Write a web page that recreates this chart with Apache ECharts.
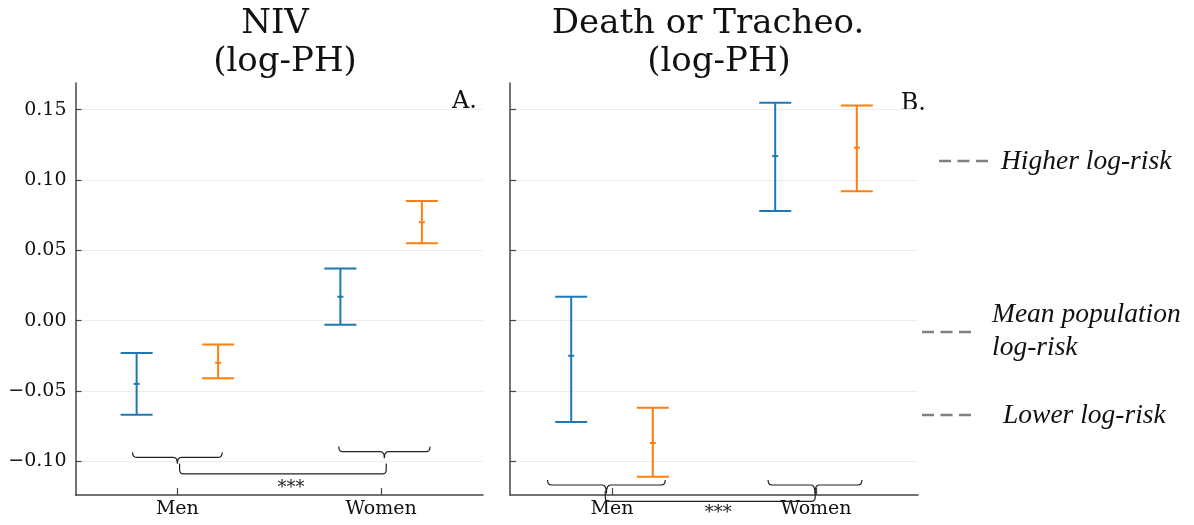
<!DOCTYPE html>
<html>
<head>
<meta charset="utf-8">
<script src="https://cdn.jsdelivr.net/npm/echarts@6.0.0/dist/echarts.min.js"></script>
<style>
  html, body { margin: 0; padding: 0; background: #fff; }
  #chart { width: 1194px; height: 525px; }
</style>
</head>
<body>
<div id="chart"></div>
<script>
const groups = ['Men', 'Women'];
const yTicks = [-0.10, -0.05, 0.00, 0.05, 0.10, 0.15];

// NIV (log-PH)
const nivBlueMean = [-0.045, 0.017];
const nivBlueLow = [-0.067, -0.003];
const nivBlueHigh = [-0.023, 0.037];
const nivOrangeMean = [-0.030, 0.070];
const nivOrangeLow = [-0.041, 0.055];
const nivOrangeHigh = [-0.017, 0.085];

// Death or Tracheo. (log-PH)
const dthBlueMean = [-0.025, 0.117];
const dthBlueLow = [-0.072, 0.078];
const dthBlueHigh = [0.017, 0.155];
const dthOrangeMean = [-0.087, 0.123];
const dthOrangeLow = [-0.111, 0.092];
const dthOrangeHigh = [-0.062, 0.153];

// brackets: [x from, x to, y] and spans: [x from, x to, y, y of ends]
const nivBraces = [[-0.22, 0.22, -0.0972], [0.792, 1.24, -0.0932]];
const nivSpan = [[0.011, 1.025, -0.109, -0.1016]];
const dthBraces = [[-0.316, 0.261, -0.1169], [0.765, 1.225, -0.1169]];
const dthSpan = [[-0.033, 0.996, -0.1285, -0.121]];
const spanLabel = '***';

const riskLabels = ['Higher log-risk', 'Mean population\nlog-risk', 'Lower log-risk'];

const BLUE = '#1f77b4';
const ORANGE = '#ff7f0e';
const SERIF = 'DejaVu Serif';

function barData(low, high, mean, shift) {
    return groups.map((g, i) => [i + shift, low[i], high[i], mean[i]]);
}

function errorBarItem(color) {
    return function (params, api) {
        const x = api.value(0);
        const lo = api.coord([x, api.value(1)]);
        const hi = api.coord([x, api.value(2)]);
        const mid = api.coord([x, api.value(3)]);
        const w = 16;
        const style = { stroke: color, lineWidth: 2 };
        return {
            type: 'group',
            children: [
                { type: 'line', shape: { x1: lo[0], y1: lo[1], x2: hi[0], y2: hi[1] }, style: style },
                { type: 'line', shape: { x1: lo[0] - w, y1: lo[1], x2: lo[0] + w, y2: lo[1] }, style: style },
                { type: 'line', shape: { x1: hi[0] - w, y1: hi[1], x2: hi[0] + w, y2: hi[1] }, style: style },
                { type: 'line', shape: { x1: mid[0] - 3, y1: mid[1], x2: mid[0] + 3, y2: mid[1] }, style: style }
            ]
        };
    };
}

function quad(p0, c, p1, out) {
    for (let k = 1; k <= 4; k++) {
        const t = k / 4, a = (1 - t) * (1 - t), b = 2 * (1 - t) * t, d = t * t;
        out.push([a * p0[0] + b * c[0] + d * p1[0], a * p0[1] + b * c[1] + d * p1[1]]);
    }
}

function braceItem(cusp) {
    return function (params, api) {
        const a = api.coord([api.value(0), api.value(2)]);
        const b = api.coord([api.value(1), api.value(2)]);
        const y = a[1], x1 = a[0], x2 = b[0], cx = (x1 + x2) / 2, h = 5, r = 4;
        const pts = [[x1, y - h]];
        quad([x1, y - h], [x1, y], [x1 + r, y], pts);
        pts.push([cx - r, y]);
        quad([cx - r, y], [cx, y], [cx, y + cusp], pts);
        quad([cx, y + cusp], [cx, y], [cx + r, y], pts);
        pts.push([x2 - r, y]);
        quad([x2 - r, y], [x2, y], [x2, y - h], pts);
        return { type: 'polyline', shape: { points: pts }, style: { stroke: '#222', lineWidth: 1.2, fill: null } };
    };
}

function spanItem(textDy) {
    return function (params, api) {
        const a = api.coord([api.value(0), api.value(2)]);
        const b = api.coord([api.value(1), api.value(2)]);
        const top = api.coord([api.value(0), api.value(3)])[1];
        const y = a[1], x1 = a[0], x2 = b[0], r = 4;
        const pts = [[x1, top], [x1, y - r]];
        quad([x1, y - r], [x1, y], [x1 + r, y], pts);
        pts.push([x2 - r, y]);
        quad([x2 - r, y], [x2, y], [x2, y - r], pts);
        pts.push([x2, top]);
        return {
            type: 'group',
            children: [
                { type: 'polyline', shape: { points: pts }, style: { stroke: '#222', lineWidth: 1.2, fill: null } },
                {
                    type: 'text', x: (x1 + x2) / 2 + 8, y: y + textDy,
                    style: { text: spanLabel, fontSize: 18, fontFamily: SERIF, fill: '#222', align: 'center', verticalAlign: 'middle' }
                }
            ]
        };
    };
}

function xAxisCfg(idx) {
    return {
        gridIndex: idx, type: 'value', min: -0.5, max: 1.5,
        axisLine: { show: true, onZero: false, lineStyle: { color: '#444', width: 1.5 } },
        axisTick: { show: true, inside: true, length: 7, customValues: [0, 1], lineStyle: { color: '#444', width: 1.2 } },
        axisLabel: {
            customValues: [0, 1], margin: 5, fontSize: 19, fontFamily: SERIF, color: '#111',
            formatter: v => groups[Math.round(v)]
        },
        splitLine: { show: false }
    };
}

function yAxisCfg(idx, showLabels) {
    return {
        gridIndex: idx, type: 'value', min: -0.124, max: 0.169,
        axisLine: { show: true, onZero: false, lineStyle: { color: '#444', width: 1.5 } },
        axisTick: { show: true, inside: true, length: 6, customValues: yTicks, lineStyle: { color: '#444', width: 1.2 } },
        axisLabel: {
            show: showLabels, customValues: yTicks, margin: 9, fontSize: 19, fontFamily: SERIF, color: '#111',
            formatter: v => (v < -1e-9 ? '\u2212' : '') + Math.abs(v).toFixed(2)
        },
        splitLine: { show: true, lineStyle: { color: '#ededed', width: 1 } }
    };
}

function custom(idx, data, renderItem) {
    return {
        type: 'custom', xAxisIndex: idx, yAxisIndex: idx, data: data,
        renderItem: renderItem, encode: { x: 0, y: [1, 2] }, silent: true, clip: false
    };
}

const legendText = { fontFamily: 'Liberation Serif', fontStyle: 'italic', fontSize: 27.5, fill: '#111', verticalAlign: 'middle', align: 'left' };
const dashStyle = { stroke: '#808080', lineWidth: 2.5, lineDash: [12, 6.5] };
const titleStyle = { fontFamily: SERIF, fontSize: 34, fill: '#111', align: 'center', verticalAlign: 'middle' };

const option = {
    animation: false,
    backgroundColor: '#fff',
    grid: [
        { left: 75.5, top: 83, width: 407.5, height: 412 },
        { left: 510, top: 83, width: 408, height: 412 }
    ],
    xAxis: [xAxisCfg(0), xAxisCfg(1)],
    yAxis: [yAxisCfg(0, true), yAxisCfg(1, false)],
    series: [
        custom(0, barData(nivBlueLow, nivBlueHigh, nivBlueMean, -0.2), errorBarItem(BLUE)),
        custom(0, barData(nivOrangeLow, nivOrangeHigh, nivOrangeMean, 0.2), errorBarItem(ORANGE)),
        custom(1, barData(dthBlueLow, dthBlueHigh, dthBlueMean, -0.2), errorBarItem(BLUE)),
        custom(1, barData(dthOrangeLow, dthOrangeHigh, dthOrangeMean, 0.2), errorBarItem(ORANGE)),
        custom(0, nivBraces, braceItem(6.5)),
        custom(0, nivSpan, spanItem(14)),
        custom(1, dthBraces, braceItem(8.5)),
        custom(1, dthSpan, spanItem(12))
    ],
    graphic: [
        { type: 'text', x: 275, y: 24, style: Object.assign({ text: 'NIV' }, titleStyle) },
        { type: 'text', x: 285, y: 62, style: Object.assign({ text: '(log-PH)' }, titleStyle) },
        { type: 'text', x: 708, y: 24, style: Object.assign({ text: 'Death or Tracheo.' }, titleStyle) },
        { type: 'text', x: 719, y: 62, style: Object.assign({ text: '(log-PH)' }, titleStyle) },
        { type: 'text', x: 477, y: 102, style: { text: 'A.', fontFamily: SERIF, fontSize: 24, fill: '#111', align: 'right', verticalAlign: 'middle' } },
        { type: 'text', x: 926, y: 104, style: { text: 'B.', fontFamily: SERIF, fontSize: 24, fill: '#111', align: 'right', verticalAlign: 'middle' } },
        { type: 'line', shape: { x1: 939, y1: 161, x2: 988, y2: 161 }, style: dashStyle },
        { type: 'text', x: 1001, y: 162, style: Object.assign({ text: riskLabels[0] }, legendText) },
        { type: 'line', shape: { x1: 922, y1: 332, x2: 971, y2: 332 }, style: dashStyle },
        { type: 'text', x: 992, y: 331, style: Object.assign({ text: riskLabels[1], lineHeight: 33 }, legendText) },
        { type: 'line', shape: { x1: 922, y1: 415, x2: 971, y2: 415 }, style: dashStyle },
        { type: 'text', x: 1003, y: 416, style: Object.assign({ text: riskLabels[2] }, legendText) }
    ]
};

const myChart = echarts.init(document.getElementById('chart'));
myChart.setOption(option);
</script>
</body>
</html>
